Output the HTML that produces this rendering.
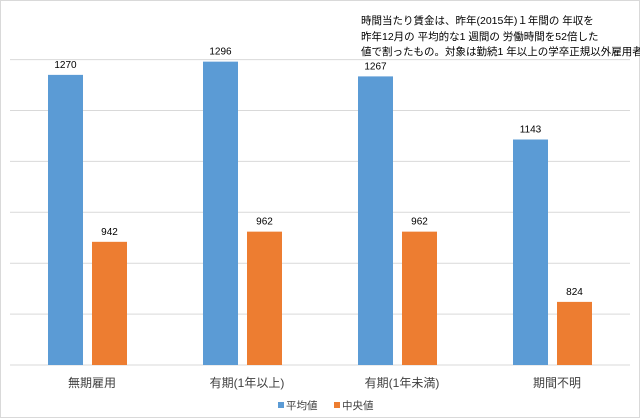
<!DOCTYPE html>
<html><head><meta charset="utf-8"><style>
body{margin:0;background:#fff;font-family:"Liberation Sans","Noto Sans CJK JP",sans-serif;}
#c{position:relative;width:638px;height:416px;border:1px solid #d9d9d9;}
.note{position:absolute;left:360px;top:13px;font-size:10.5px;line-height:15.5px;color:#000;white-space:nowrap;}
</style></head><body>
<div id="c">
<div class="note">時間当たり賃金は、昨年(2015年)１年間の 年収を<br>昨年12月の 平均的な1 週間の 労働時間を52倍した<br>値で割ったもの。対象は勤続1 年以上の学卒正規以外雇用者。</div>
<svg id="s" width="638" height="416" style="position:absolute;left:0;top:0"></svg>
</div>
<script>
const categories=["無期雇用","有期(1年以上)","有期(1年未満)","期間不明"];
const meanValues=[1270,1296,1267,1143];
const medianValues=[942,962,962,824];
const gridTicks=[700,800,900,1000,1100,1200,1300];
const seriesNames=["平均値","中央値"];
const ns="http://www.w3.org/2000/svg";
const s=document.getElementById('s');
const L=9,R=629,base=364,ppu=0.509,ymin=700;
const y=v=>base-(v-ymin)*ppu;
const cw=(R-L)/categories.length;
function mk(t,a){const e=document.createElementNS(ns,t);for(const k in a)e.setAttribute(k,a[k]);s.appendChild(e);return e;}
gridTicks.forEach(t=>{const g=mk('line',{x1:L,x2:R,y1:y(t),y2:y(t),stroke:'#d9d9d9','stroke-width':1});

});
const cols=["#5b9bd5","#ed7d31"];
categories.forEach((c,i)=>{
 [meanValues,medianValues].forEach((arr,j)=>{
  const x=L+i*cw+38+j*44, v=arr[i];
  const r=mk('rect',{x:x,y:y(v),width:35,height:base-y(v),fill:cols[j]});
  
  
  const t=mk('text',{x:x+17.5,y:y(v)-7,'text-anchor':'middle','font-size':10,fill:'#000'});
  t.textContent=v;
  
  
 });
 const t=mk('text',{x:L+i*cw+82,y:386,'text-anchor':'middle','font-size':12,fill:'#404040'});
 t.textContent=c;
 
 
});
seriesNames.forEach((n,j)=>{
 const x=277+j*56;
 const r=mk('rect',{x:x,y:401,width:6,height:6,fill:cols[j]});
 
 
 const t=mk('text',{x:x+8,y:408,'font-size':10.5,fill:'#404040'});
 t.textContent=n;
 
 
});
</script>
</body></html>
